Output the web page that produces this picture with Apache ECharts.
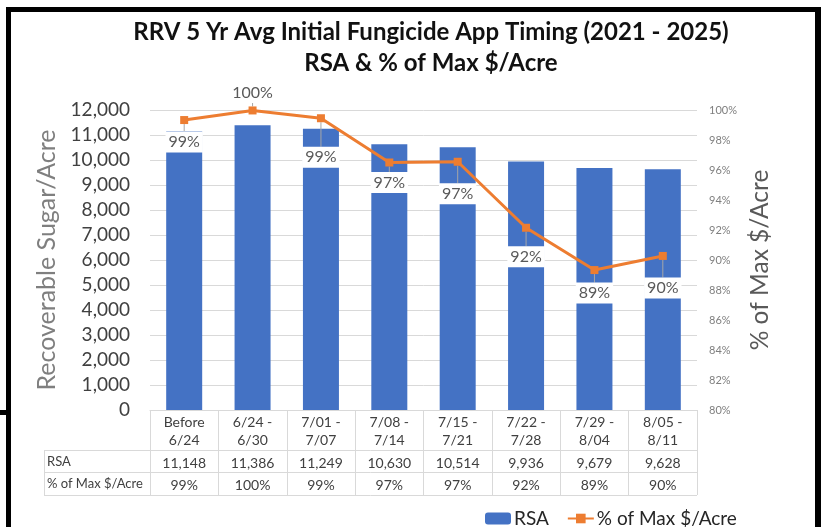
<!DOCTYPE html>
<html><head><meta charset="utf-8">
<script src="https://cdn.jsdelivr.net/npm/echarts@6/dist/echarts.min.js"></script>
<style>html,body{margin:0;padding:0;background:#fff}#c{width:821px;height:527px}</style>
</head><body><div id="c"></div>
<script>
// ---- data ----
const categories = ['Before\n6/24', '6/24 -\n6/30', '7/01 -\n7/07', '7/08 -\n7/14', '7/15 -\n7/21', '7/22 -\n7/28', '7/29 -\n8/04', '8/05 -\n8/11'];
const rsa = [11148, 11386, 11249, 10630, 10514, 9936, 9679, 9628];
const pctOfMax = [99.33, 99.97, 99.45, 96.5, 96.55, 92.15, 89.33, 90.27];
const leftAxis = { min: 0, max: 12000, interval: 1000 };
const rightAxis = { min: 80, max: 100, interval: 2 };
const rowLabels = ['RSA', '% of Max $/Acre'];
const seriesNames = ['RSA', '% of Max $/Acre'];

// ---- presentation ----
const FONT = 'Lato, "Open Sans", sans-serif';
const labelDy = [22, -18, 39, 20, 32, 29, 23, 32];
const fmtNum = v => v.toLocaleString('en-US');

const chart = echarts.init(document.getElementById('c'), null, { renderer: 'canvas' });
const tableLine = { stroke: '#d9d9d9', lineWidth: 1 };
chart.setOption({
  backgroundColor: '#fff',
  textStyle: { fontFamily: FONT },
  animation: false,
  title: {
    text: 'RRV 5 Yr Avg Initial Fungicide App Timing (2021 - 2025)\nRSA & % of Max $/Acre',
    left: 426, top: 12, textAlign: 'center',
    textStyle: { fontFamily: FONT, fontSize: 24, fontWeight: 'bold', color: '#111', lineHeight: 31 }
  },
  legend: {
    data: seriesNames, left: 480, top: 504, itemWidth: 26, itemHeight: 12, itemGap: 18,
    textStyle: { fontFamily: FONT, fontSize: 19, color: '#262626', padding: [0, 0, 0, -2] }
  },
  grid: { left: 150, right: 124, top: 110, bottom: 117, containLabel: false },
  xAxis: {
    type: 'category', data: categories, boundaryGap: true,
    axisLine: { show: true, lineStyle: { color: '#d9d9d9', width: 1 } },
    axisTick: { show: true, length: 85, lineStyle: { color: '#d9d9d9', width: 1 } },
    axisLabel: {
      interval: 0, margin: 4,
      formatter: (value, idx) => {
        const p = value.split('\n');
        return '{h|' + p[0] + '}\n{h|' + p[1] + '}\n{s| }\n{r|' + fmtNum(rsa[idx]) + '}\n{r|' + Math.round(pctOfMax[idx]) + '%}';
      },
      rich: {
        h: { fontFamily: FONT, fontSize: 14, lineHeight: 17.6, color: '#404040' },
        s: { fontSize: 1, lineHeight: 3 },
        r: { fontFamily: FONT, fontSize: 14, lineHeight: 22.4, color: '#404040' }
      }
    }
  },
  yAxis: [
    {
      type: 'value', min: leftAxis.min, max: leftAxis.max, interval: leftAxis.interval,
      name: 'Recoverable Sugar/Acre', nameLocation: 'middle', nameGap: 84,
      nameTextStyle: { fontFamily: FONT, fontSize: 25, color: '#7f7f7f' },
      axisLine: { show: false }, axisTick: { show: false },
      axisLabel: { fontFamily: FONT, fontSize: 19, color: '#404040', margin: 20, formatter: v => fmtNum(v) },
      splitLine: { show: true, lineStyle: { color: '#d9d9d9', width: 1 } }
    },
    {
      type: 'value', min: rightAxis.min, max: rightAxis.max, interval: rightAxis.interval,
      name: '% of Max $/Acre', nameLocation: 'middle', nameGap: 47, nameRotate: 90,
      nameTextStyle: { fontFamily: FONT, fontSize: 24.5, color: '#595959' },
      axisLine: { show: false }, axisTick: { show: false },
      axisLabel: { fontFamily: FONT, fontSize: 11, color: '#7f7f7f', margin: 12, formatter: '{value}%' },
      splitLine: { show: false }
    }
  ],
  series: [
    {
      name: seriesNames[0], type: 'bar', data: rsa, yAxisIndex: 0, barWidth: 36,
      itemStyle: { color: '#4472C4' }, z: 2
    },
    {
      name: seriesNames[1], type: 'line', data: pctOfMax, yAxisIndex: 1,
      symbol: 'rect', symbolSize: 8,
      lineStyle: { color: '#ED7D31', width: 3 }, itemStyle: { color: '#ED7D31' },
      z: 5,
      label: {
        show: true, position: 'inside', formatter: p => Math.round(p.value) + '%',
        fontFamily: FONT, fontSize: 16, color: '#595959', backgroundColor: '#fff', padding: [3, 3, 2, 3]
      },
      labelLine: { show: true, lineStyle: { color: '#a6a6a6', width: 1 } },
      labelLayout: params => ({ dy: labelDy[params.dataIndex] })
    }
  ],
  graphic: [
    // table outlines
    { type: 'line', shape: { x1: 44, y1: 450.5, x2: 697, y2: 450.5 }, style: tableLine, silent: true },
    { type: 'line', shape: { x1: 44, y1: 472.5, x2: 697, y2: 472.5 }, style: tableLine, silent: true },
    { type: 'line', shape: { x1: 44, y1: 495.5, x2: 697, y2: 495.5 }, style: tableLine, silent: true },
    { type: 'line', shape: { x1: 44.5, y1: 450, x2: 44.5, y2: 496 }, style: tableLine, silent: true },
    { type: 'text', left: 47, top: 455, style: { text: rowLabels[0], fontFamily: FONT, fontSize: 13, fill: '#404040' } },
    { type: 'text', left: 47, top: 477, style: { text: rowLabels[1], fontFamily: FONT, fontSize: 13, fill: '#404040' } },
    // outer frame
    { type: 'rect', shape: { x: 6, y: 7, width: 815, height: 5 }, style: { fill: '#000' }, silent: true },
    { type: 'rect', shape: { x: 6, y: 7, width: 5, height: 520 }, style: { fill: '#000' }, silent: true },
    { type: 'rect', shape: { x: 815, y: 7, width: 6, height: 520 }, style: { fill: '#000' }, silent: true },
    { type: 'rect', shape: { x: 0, y: 410, width: 7, height: 5 }, style: { fill: '#000' }, silent: true }
  ]
});
</script></body></html>
